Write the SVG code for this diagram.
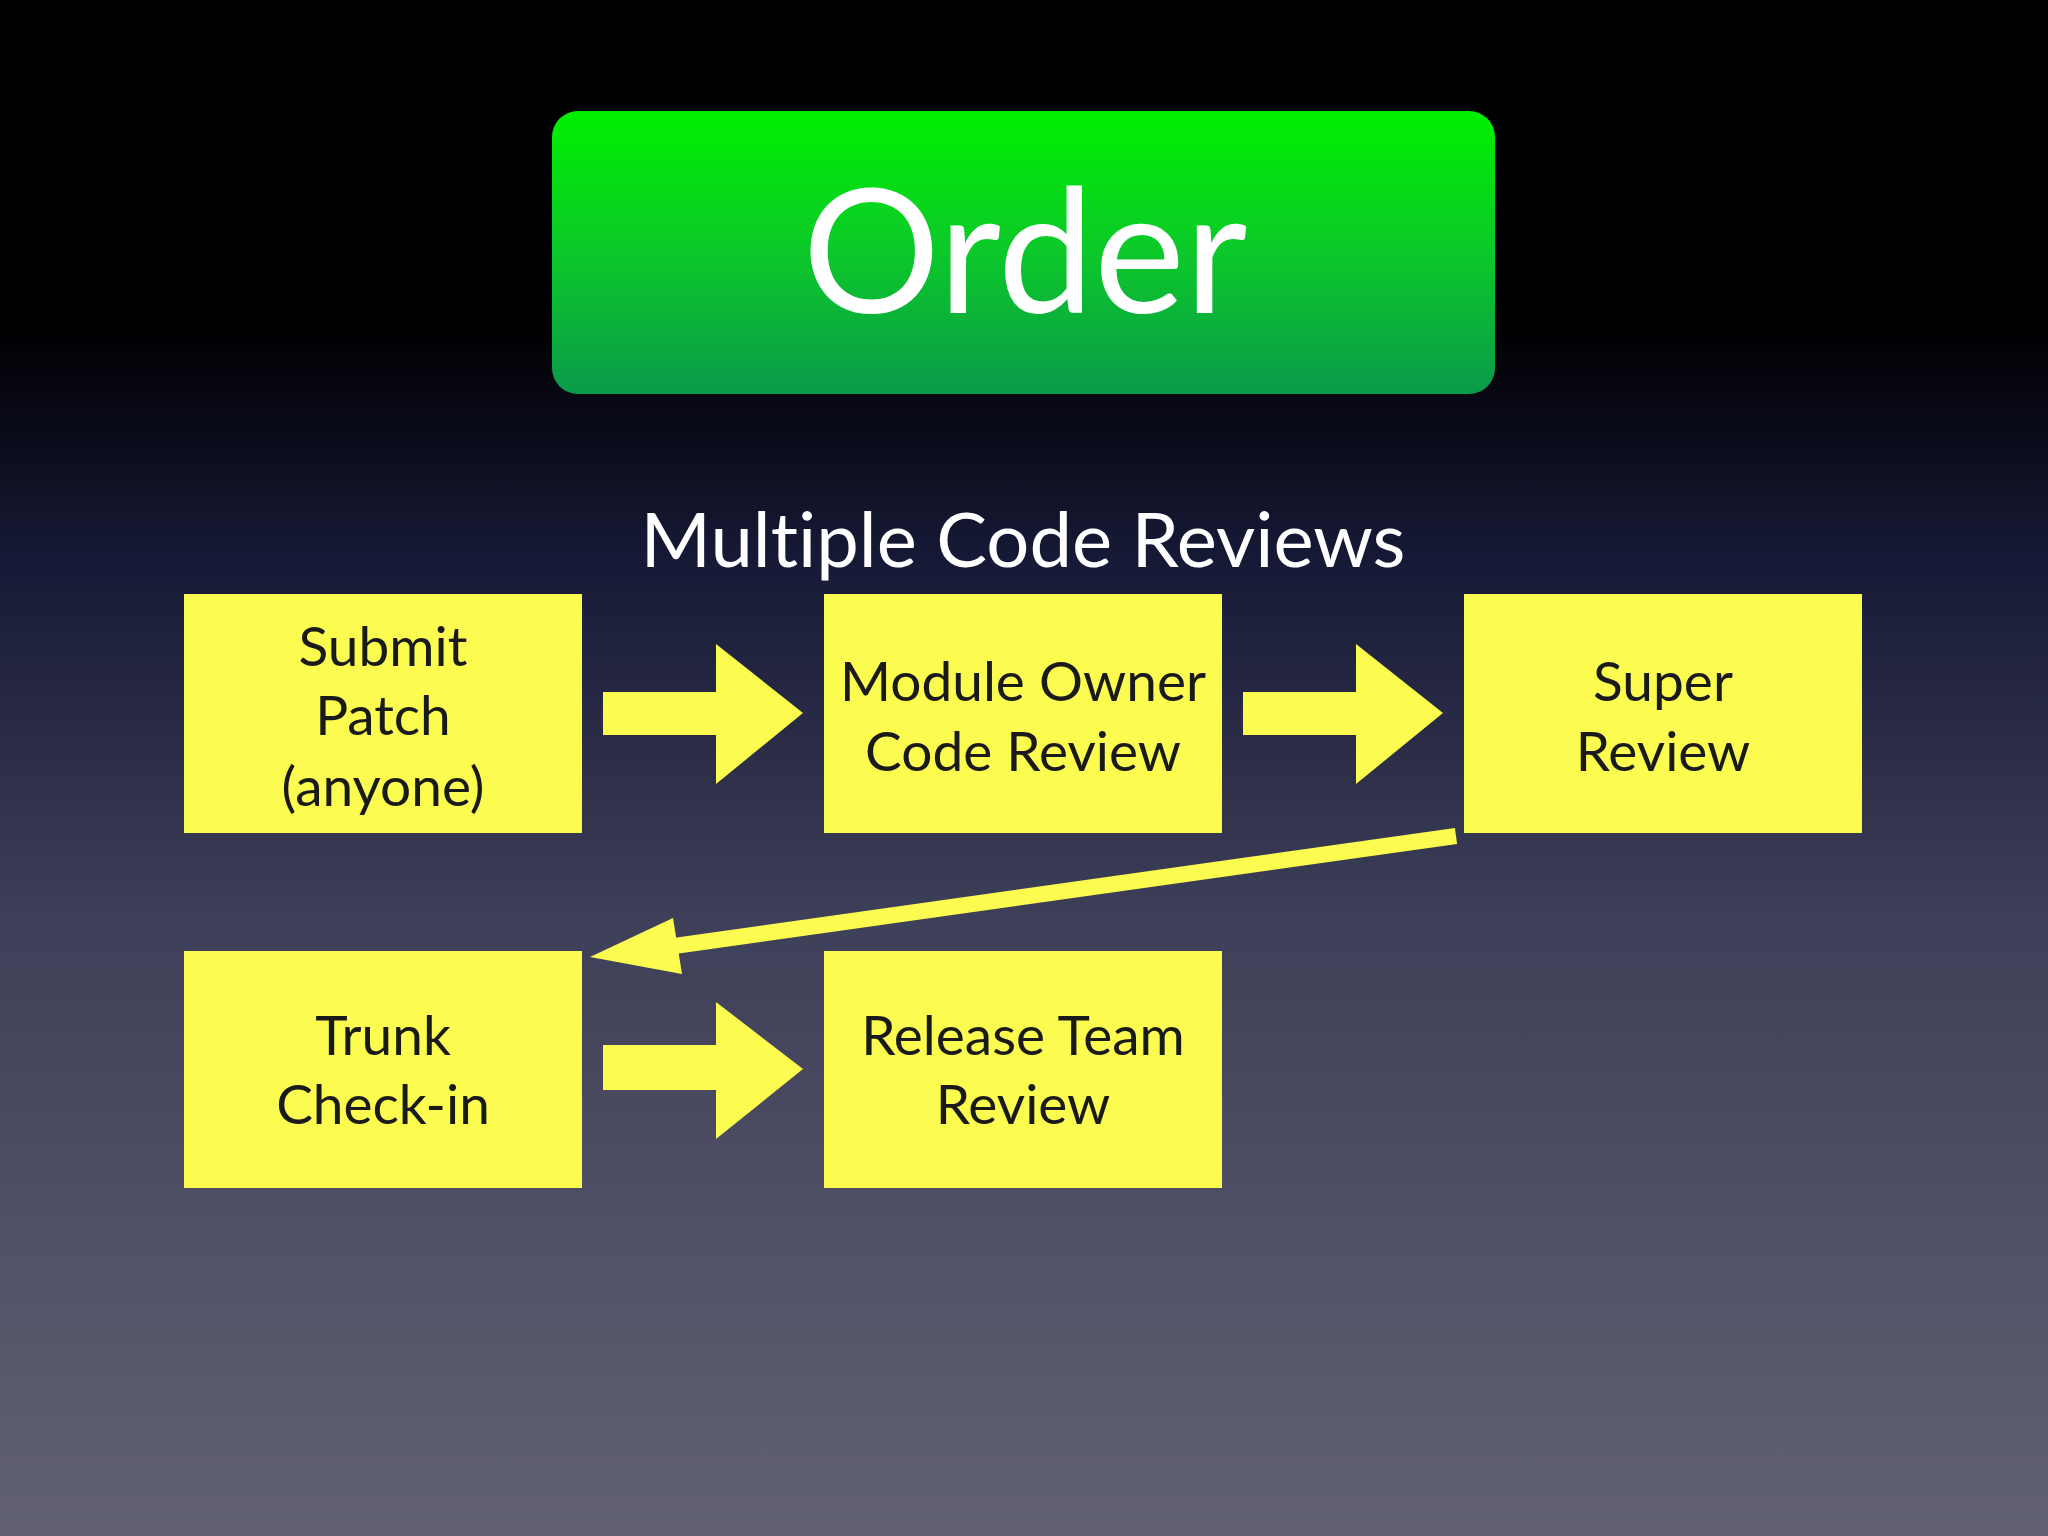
<svg xmlns="http://www.w3.org/2000/svg" width="2048" height="1536" viewBox="0 0 2048 1536">
<defs>
<linearGradient id="bg" x1="0" y1="0" x2="0" y2="1">
<stop offset="0" stop-color="#000000"/>
<stop offset="0.22" stop-color="#010104"/>
<stop offset="0.36" stop-color="#161935"/>
<stop offset="0.6" stop-color="#3e3f58"/>
<stop offset="1" stop-color="#626174"/>
</linearGradient>
<linearGradient id="gr" x1="0" y1="0" x2="0" y2="1">
<stop offset="0" stop-color="#00f000"/>
<stop offset="0.5" stop-color="#0cc82a"/>
<stop offset="1" stop-color="#0a9a4a"/>
</linearGradient>
<style>
text{font-variant-ligatures:none}
.box{fill:#fbfb50}
.t{font-family:Lato,"Open Sans",sans-serif;font-size:55px;fill:#1a1a1a;text-anchor:middle}
.arr{fill:#fbfb50}
</style>
</defs>
<rect width="2048" height="1536" fill="url(#bg)"/>
<g id="title">
<rect x="552" y="111" width="943" height="283" rx="26" fill="url(#gr)"/>
<text x="1025" y="313" font-family="Lato,'Open Sans',sans-serif" font-size="172" fill="#ffffff" text-anchor="middle">Order</text>
</g>
<text x="1023" y="567" font-family="Lato,'Open Sans',sans-serif" font-size="76" fill="#ffffff" text-anchor="middle">Multiple Code Reviews</text>
<g id="submit"><rect class="box" x="184" y="594" width="398" height="239"/>
<text class="t" x="383" y="666">Submit</text><text class="t" x="383" y="735">Patch</text><text class="t" x="383" y="806">(anyone)</text></g>
<g id="module"><rect class="box" x="824" y="594" width="398" height="239"/>
<text class="t" x="1023" y="701">Module Owner</text><text class="t" x="1023" y="771">Code Review</text></g>
<g id="super"><rect class="box" x="1464" y="594" width="398" height="239"/>
<text class="t" x="1663" y="701">Super</text><text class="t" x="1663" y="771">Review</text></g>
<g id="trunk"><rect class="box" x="184" y="951" width="398" height="237"/>
<text class="t" x="383" y="1055">Trunk</text><text class="t" x="383" y="1124">Check-in</text></g>
<g id="release"><rect class="box" x="824" y="951" width="398" height="237"/>
<text class="t" x="1023" y="1055">Release Team</text><text class="t" x="1023" y="1124">Review</text></g>
<g id="connectors">
<polygon class="arr" points="603,692 716,692 716,644 803,713 716,784 716,735 603,735"/>
<polygon class="arr" points="1243,692 1356,692 1356,644 1443,713 1356,784 1356,735 1243,735"/>
<polygon class="arr" points="603,1045 716,1045 716,1002 803,1069 716,1139 716,1090 603,1090"/>
<line x1="1456" y1="836" x2="660" y2="948" stroke="#fbfb50" stroke-width="16"/>
<polygon class="arr" points="590,957 673,918 682,974"/>
</g>
</svg>
